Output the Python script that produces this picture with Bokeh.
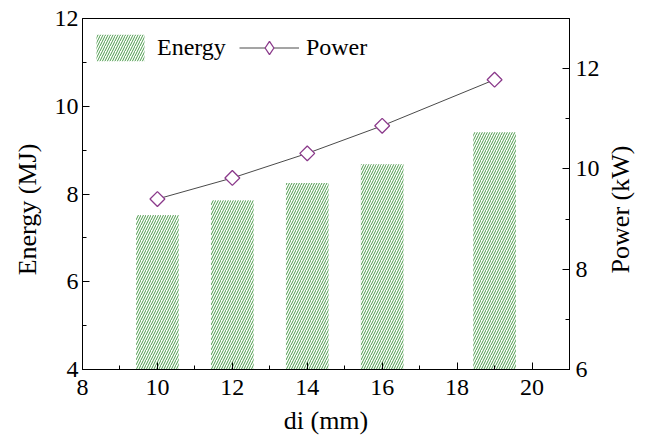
import math
from bokeh.plotting import figure
from bokeh.layouts import row
from bokeh.models import LinearAxis, Range1d, FixedTicker, Legend, LegendItem, Label
from bokeh.embed import file_html
from bokeh.resources import INLINE

# Data
di = [10, 12, 14, 16, 19]
energy = [7.52, 7.86, 8.25, 8.68, 9.41]
power = [9.40, 9.82, 10.31, 10.86, 11.78]

x_ticks = [8, 10, 12, 14, 16, 18, 20]
x_minor = [9, 11, 13, 15, 17, 19, 21]
e_ticks = [4, 6, 8, 10, 12]
e_minor = [5, 7, 9, 11]
p_ticks = [6, 8, 10, 12]
p_minor = [7, 9, 11, 13]

FONT = "'Liberation Serif', 'Times New Roman', serif"
HATCH = "#4a9a4a"
PURPLE = "#8b3a8b"
H = 437

p = figure(width=556, height=H, x_range=Range1d(8, 21), y_range=Range1d(4, 12),
           output_backend="svg", toolbar_location=None,
           min_border_left=36, min_border_right=32, min_border_top=18, min_border_bottom=64)
p.extra_y_ranges = {"power": Range1d(6, 13)}

bars = p.vbar(x=di, top=energy, bottom=4, width=1.14, fill_color=None, line_color=None,
              hatch_pattern="/", hatch_color=HATCH, hatch_scale=5, hatch_weight=1)
ln = p.line(di, power, y_range_name="power", line_color="#4a4a4a", line_width=1)
sc = p.scatter(di, power, y_range_name="power", marker="square", angle=math.pi / 4,
               size=10.5, fill_color="white", line_color=PURPLE, line_width=1.3)
# legend-only proxy glyph (a single NaN point, never drawn) so the legend shows a diamond
proxy = p.scatter(x=[float("nan")], y=[float("nan")], y_range_name="power", marker="diamond",
                  size=14, fill_color="white", line_color=PURPLE, line_width=1.3)

p.xgrid.visible = False
p.ygrid.visible = False
p.outline_line_color = "black"
p.outline_line_width = 1
p.background_fill_color = "white"
p.border_fill_color = "white"

right = LinearAxis(y_range_name="power")
p.add_layout(right, "right")

p.xaxis.axis_label = "di (mm)"

p.xaxis.ticker = FixedTicker(ticks=x_ticks, minor_ticks=x_minor)
p.yaxis[0].ticker = FixedTicker(ticks=e_ticks, minor_ticks=e_minor)
right.ticker = FixedTicker(ticks=p_ticks, minor_ticks=p_minor)

for ax in [p.xaxis[0], p.yaxis[0], right]:
    ax.axis_line_color = "black"
    ax.major_tick_line_color = "black"
    ax.minor_tick_line_color = "black"
    ax.major_tick_in = 7
    ax.major_tick_out = 0
    ax.minor_tick_in = 4
    ax.minor_tick_out = 0
    ax.major_label_text_font = FONT
    ax.major_label_text_font_size = "24px"
    ax.major_label_text_color = "black"
    ax.axis_label_text_font = FONT
    ax.axis_label_text_font_size = "26px"
    ax.axis_label_text_font_style = "normal"
    ax.axis_label_text_color = "black"

p.xaxis[0].major_label_standoff = 10
p.xaxis[0].axis_label_standoff = 8
p.yaxis[0].major_label_standoff = 4
right.major_label_standoff = 6

legend = Legend(items=[LegendItem(label="Energy", renderers=[bars]),
                       LegendItem(label="Power", renderers=[ln, proxy])],
                location=(8, 305), orientation="horizontal",
                margin=0, padding=0, spacing=13, label_standoff=7,
                glyph_width=60, glyph_height=33, label_height=33,
                label_text_font=FONT, label_text_font_size="24px",
                label_text_color="black",
                border_line_color=None, background_fill_alpha=0)
p.add_layout(legend)


def side_title(width, text, cx):
    s = figure(width=width, height=H, x_range=Range1d(0, 1), y_range=Range1d(0, 1),
               output_backend="svg", toolbar_location=None,
               x_axis_location=None, y_axis_location=None,
               min_border_left=0, min_border_right=0, min_border_top=0, min_border_bottom=0)
    s.grid.visible = False
    s.outline_line_color = None
    s.background_fill_color = "white"
    s.border_fill_color = "white"
    s.add_layout(Label(x=cx, y=160, x_units="screen", y_units="screen", text=text,
                       angle=math.pi / 2, text_align="center", text_baseline="middle",
                       text_font=FONT, text_font_size="26px", text_color="black"))
    return s


left_t = side_title(46, "Energy (MJ)", 27)
right_t = side_title(36, "Power (kW)", 18)

layout = row(left_t, p, right_t, spacing=0)

open("out.html", "w").write(file_html(layout, INLINE))
